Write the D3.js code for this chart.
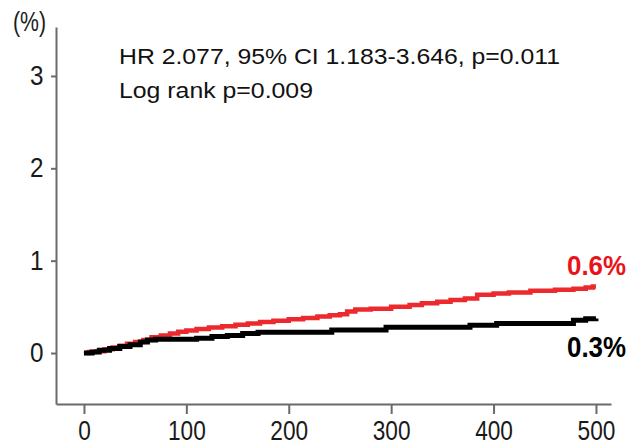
<!DOCTYPE html>
<html>
<head>
<meta charset="utf-8">
<script src="https://cdn.jsdelivr.net/npm/d3@7"></script>
<style>
  html, body { margin: 0; padding: 0; background: #fff; }
  svg { display: block; font-family: Arial, "Liberation Sans", Helvetica, sans-serif; }
</style>
</head>
<body>
<svg id="chart" width="634" height="446"></svg>
<script>
// Cumulative incidence (%) over follow-up time
const redTimes  = [0, 5, 12, 20, 28, 35, 42, 50, 58, 66, 75, 84, 92, 100, 110, 122, 135, 148, 160, 172, 185, 200, 214, 228, 240, 250, 257, 265, 280, 300, 318, 330, 345, 358, 372, 384, 400, 415, 436, 460, 478, 490, 497, 500];
const redValues = [0, 0.01, 0.02, 0.04, 0.06, 0.08, 0.10, 0.12, 0.14, 0.17, 0.19, 0.21, 0.23, 0.245, 0.26, 0.275, 0.29, 0.305, 0.32, 0.335, 0.35, 0.365, 0.38, 0.395, 0.41, 0.42, 0.45, 0.47, 0.48, 0.50, 0.52, 0.54, 0.555, 0.575, 0.59, 0.63, 0.645, 0.655, 0.675, 0.685, 0.695, 0.71, 0.72, 0.72];

const blackTimes  = [0, 8, 15, 25, 35, 45, 55, 62, 70, 110, 125, 140, 155, 170, 242, 295, 377, 403, 478, 490, 500];
const blackValues = [0, 0.01, 0.03, 0.05, 0.07, 0.09, 0.12, 0.14, 0.15, 0.16, 0.18, 0.19, 0.21, 0.225, 0.25, 0.28, 0.30, 0.32, 0.355, 0.37, 0.375];

const xTicks = [0, 100, 200, 300, 400, 500];
const yTicks = [0, 1, 2, 3];

const statsLines = ["HR 2.077, 95% CI 1.183-3.646, p=0.011", "Log rank p=0.009"];
const endLabels = ["0.6%", "0.3%"];

const svg = d3.select("#chart");

const x = d3.scaleLinear().domain([-27.3, 514.7]).range([56, 611]);
const y = d3.scaleLinear().domain([-0.552, 3.53]).range([404, 27]);

const axisColor = "#6a6a6a";
const labelFont = "Arial, 'Liberation Sans', sans-serif";

// y axis
const gy = svg.append("g")
  .attr("transform", "translate(56,0)")
  .call(d3.axisLeft(y).tickValues(yTicks).tickFormat(d3.format("d"))
        .tickSize(5).tickSizeOuter(0).tickPadding(9));
gy.select(".domain").attr("stroke", axisColor).attr("stroke-width", 2);
gy.selectAll(".tick line").attr("stroke", axisColor).attr("stroke-width", 2);
gy.selectAll(".tick text").attr("font-size", 27).attr("fill", "#1a1a1a")
  .attr("font-family", labelFont)
  .attr("transform", "scale(0.9,1)");

// x axis
const gx = svg.append("g")
  .attr("transform", "translate(0,404)")
  .call(d3.axisBottom(x).tickValues(xTicks).tickFormat(d3.format("d"))
        .tickSize(10).tickSizeOuter(0).tickPadding(7));
gx.select(".domain").attr("stroke", axisColor).attr("stroke-width", 2);
gx.selectAll(".tick line").attr("stroke", axisColor).attr("stroke-width", 2);
gx.selectAll(".tick text").attr("font-size", 27).attr("fill", "#1a1a1a")
  .attr("font-family", labelFont)
  .attr("transform", "scale(0.84,1)");

// unit label
svg.append("text")
  .attr("x", 13).attr("y", 31)
  .attr("font-size", 27).attr("fill", "#1a1a1a")
  .attr("textLength", 33).attr("lengthAdjust", "spacingAndGlyphs")
  .text("(%)");

// step curves
const line = d3.line()
  .x(d => x(d[0]))
  .y(d => y(d[1]))
  .curve(d3.curveStepAfter);

const redData = d3.zip(redTimes, redValues);
const blackData = d3.zip(blackTimes, blackValues);

svg.append("path")
  .datum(redData)
  .attr("fill", "none")
  .attr("stroke", "#ec2a2e")
  .attr("stroke-width", 4.5)
  .attr("d", line);

svg.append("path")
  .datum(blackData)
  .attr("fill", "none")
  .attr("stroke", "#000")
  .attr("stroke-width", 5)
  .attr("d", line);

// statistics annotation
svg.append("text")
  .attr("x", 119).attr("y", 64)
  .attr("font-size", 22.5).attr("fill", "#111")
  .attr("textLength", 441).attr("lengthAdjust", "spacingAndGlyphs")
  .text(statsLines[0]);
svg.append("text")
  .attr("x", 119).attr("y", 97.5)
  .attr("font-size", 22.5).attr("fill", "#111")
  .attr("textLength", 194).attr("lengthAdjust", "spacingAndGlyphs")
  .text(statsLines[1]);

// end-of-curve rate labels
svg.append("text")
  .attr("x", 567).attr("y", 275)
  .attr("font-size", 28).attr("font-weight", "bold").attr("fill", "#e8141a")
  .attr("textLength", 59).attr("lengthAdjust", "spacingAndGlyphs")
  .text(endLabels[0]);
svg.append("text")
  .attr("x", 567).attr("y", 357)
  .attr("font-size", 29).attr("font-weight", "bold").attr("fill", "#000")
  .attr("textLength", 59).attr("lengthAdjust", "spacingAndGlyphs")
  .text(endLabels[1]);
</script>
</body>
</html>
